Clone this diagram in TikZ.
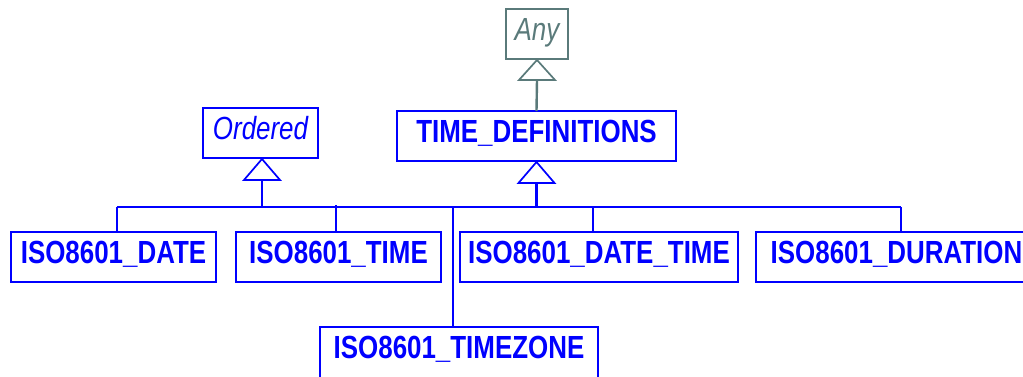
\documentclass[tikz,border=0pt]{standalone}
\usepackage{fontspec}
\newfontfamily\umlfont[FakeStretch=0.81]{Liberation Sans}
\usepackage{tikz}
\definecolor{umlblue}{RGB}{0,0,255}
\definecolor{umlgrey}{RGB}{90,122,122}

\begin{document}
\begin{tikzpicture}[x=1pt, y=-1pt]
\tikzstyle{cls}=[draw=umlblue, text=umlblue, line width=2.4pt, outer sep=0pt,
  inner xsep=0pt, inner ysep=0pt, text height=31pt, text depth=19pt,
  anchor=north west, font=\umlfont\fontsize{32}{38}\selectfont\bfseries];
\tikzstyle{abstr}=[cls, font=\umlfont\fontsize{32}{38}\selectfont\itshape];
\tikzstyle{link}=[draw=umlblue, line width=2.4pt];
\tikzstyle{gen}=[draw=umlblue, fill=white, line width=1.7pt, line join=miter];
\useasboundingbox (0,0) rectangle (1023,376);

% classes
\path (506,9) node[abstr, draw=umlgrey, text=umlgrey, minimum width=62pt] (any) {Any};
\path (203,108) node[abstr, minimum width=115pt] (ordered) {Ordered};
\path (397,111) node[cls, minimum width=279pt] (timedefs) {TIME\_DEFINITIONS};
\path (11,232) node[cls, minimum width=205pt] (date) {ISO8601\_DATE};
\path (236,232) node[cls, minimum width=205pt] (time) {ISO8601\_TIME};
\path (460,232) node[cls, minimum width=278pt] (datetime) {ISO8601\_DATE\_TIME};
\path (756,232) node[cls, minimum width=281pt] (duration) {ISO8601\_DURATION};
\path (320,327) node[cls, text depth=30pt, minimum width=278pt] (timezone) {ISO8601\_TIMEZONE};

% generalisation arrows
\coordinate (anybase) at ([yshift=-21pt]any.south);
\coordinate (ordbase) at ([xshift=1.5pt,yshift=-22pt]ordered.south);
\coordinate (defbase) at ([yshift=-22pt]timedefs.south);
\draw[umlgrey, line width=2.4pt] (timedefs.north) -- (anybase);
\draw[gen, draw=umlgrey] ([yshift=-1pt]any.south) -- ([xshift=-18pt]anybase) -- ([xshift=18pt]anybase) -- cycle;
\draw[gen] ([xshift=1.5pt,yshift=-1pt]ordered.south) -- ([xshift=-18pt]ordbase) -- ([xshift=18pt]ordbase) -- cycle;
\draw[gen] ([yshift=-1pt]timedefs.south) -- ([xshift=-18pt]defbase) -- ([xshift=18pt]defbase) -- cycle;

% bus
\coordinate (b1) at (117,207);
\coordinate (b2) at (336,207);
\coordinate (b3) at (453,207);
\coordinate (b4) at (593,207);
\coordinate (b5) at (901,207);
\draw[link] (ordbase) -- (ordbase |- b1);
\draw[link] (defbase) -- (defbase |- b1);
\draw[link] (b1) -- (b5);
\draw[link] (b1) -- (b1 |- date.north);
\draw[link] ([yshift=2pt]b2) -- (b2 |- time.north);
\draw[link] (b3) -- (b3 |- timezone.north);
\draw[link] (b4) -- (b4 |- datetime.north);
\draw[link] (b5) -- (b5 |- duration.north);
\end{tikzpicture}
\end{document}
